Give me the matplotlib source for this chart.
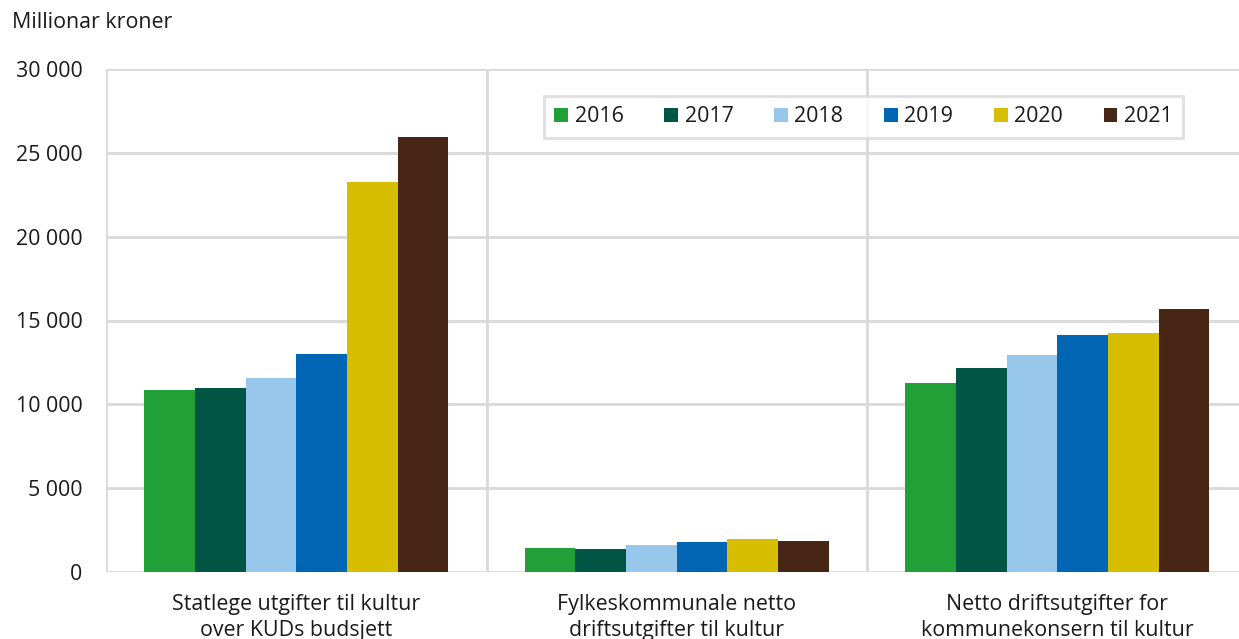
import matplotlib
matplotlib.use("Agg")
import matplotlib.pyplot as plt
import numpy as np
from matplotlib.patches import Patch

plt.rcParams['font.family'] = ['Open Sans', 'DejaVu Sans']

categories = ["Statlege utgifter til kultur\nover KUDs budsjett",
              "Fylkeskommunale netto\ndriftsutgifter til kultur",
              "Netto driftsutgifter for\nkommunekonsern til kultur"]
years = ["2016", "2017", "2018", "2019", "2020", "2021"]
v2016 = [10860, 1450, 11290]
v2017 = [10950, 1390, 12150]
v2018 = [11550, 1610, 12940]
v2019 = [12985, 1810, 14115]
v2020 = [23240, 1970, 14255]
v2021 = [25930, 1830, 15705]
series = [v2016, v2017, v2018, v2019, v2020, v2021]
colors = ["#21a038", "#005544", "#97c8eb", "#0066b3", "#d7be00", "#472615"]
yticks = [0, 5000, 10000, 15000, 20000, 25000, 30000]
ytick_labels = ["0", "5 000", "10 000", "15 000", "20 000", "25 000", "30 000"]

W, H = 1239, 639
FS = 15.4
fig = plt.figure(figsize=(W/100, H/100), dpi=100)
ax = fig.add_axes([106/W, 1-572/H, 1-106/W, (572-69)/H])

grid_c = "#d9d9d9"
n = len(years)
bw = 0.8 / n
x = np.arange(len(categories))
for i, (y, vals) in enumerate(zip(years, series)):
    ax.bar(x - 0.4 + bw*(i+0.5), vals, width=bw, color=colors[i],
           edgecolor="none", zorder=3, label=y)

grp_px = 380.5
right_lim = -0.5 + (W-106)/grp_px
ax.set_xlim(-0.5, right_lim)
ax.set_ylim(0, 30000)
ax.set_yticks(yticks)
ax.set_yticklabels(ytick_labels, fontsize=FS, color="#1a1a1a")
ax.set_xticks(x)
ax.set_xticklabels(categories, fontsize=FS, color="#1a1a1a", linespacing=1.3)
ax.tick_params(axis='both', length=0)
ax.tick_params(axis='y', pad=17)
ax.tick_params(axis='x', pad=16)
for yv in yticks:
    ax.axhline(yv, color=grid_c, lw=2, zorder=1)
for xv in [-0.5, 0.5, 1.5]:
    ax.axvline(xv, color=grid_c, lw=2, zorder=1)
for s in ax.spines.values():
    s.set_visible(False)

handles = [Patch(facecolor=c, edgecolor="none") for c in colors]
leg = ax.legend(handles, years, ncol=6, loc="center",
                bbox_to_anchor=(863.5/W, 1-117/H), bbox_transform=fig.transFigure,
                fontsize=FS, frameon=True, fancybox=False,
                handlelength=0.65, handleheight=0.65, handletextpad=0.3,
                columnspacing=1.9, borderpad=0.5, borderaxespad=0)
leg.get_frame().set_edgecolor(grid_c)
leg.get_frame().set_linewidth(2)
for t in leg.get_texts():
    t.set_color("#1a1a1a")

fig.text(12/W, 1-23/H, "Millionar kroner", fontsize=FS, color="#1a1a1a",
         ha="left", va="center")

fig.savefig("out.png", dpi=100)
